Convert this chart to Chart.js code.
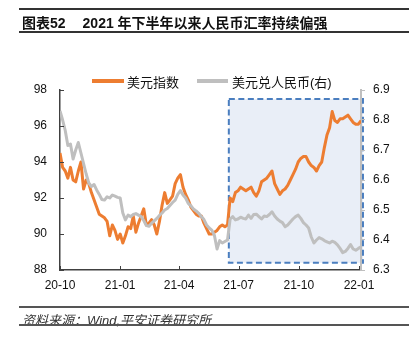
<!DOCTYPE html>
<html lang="zh">
<head>
  <meta charset="UTF-8">
  <title>2021年下半年以来人民币汇率持续偏强</title>
  <style>
    body {
      margin: 0;
      background: #fff;
      font-family: 'Liberation Sans', Arial, 'Noto Sans CJK SC', sans-serif;
      color: #111;
    }
    #wrap {
      position: relative;
      width: 415px;
      height: 341px;
      overflow: hidden;
    }
    #chart {
      position: absolute;
      left: 0;
      top: 0;
    }
    .rule {
      position: absolute;
      left: 19px;
      width: 390px;
      height: 2px;
      background: #333;
    }
    #title {
      position: absolute;
      left: 22px;
      top: 12px;
      font-size: 14px;
      font-weight: bold;
      white-space: nowrap;
    }
    #title .sub { margin-left: 17px; }
    .legend {
      position: absolute;
      top: 72px;
      font-size: 13px;
      white-space: nowrap;
      color: #111;
    }
    .swatch {
      position: absolute;
      top: 7px;
      height: 4px;
    }
    #source {
      position: absolute;
      left: 22px;
      top: 310px;
      font-size: 13px;
      font-style: italic;
      color: #333;
      white-space: nowrap;
    }
  </style>
  <script src="https://cdn.jsdelivr.net/npm/chart.js"></script>
</head>
<body>
<div id="wrap">
  <canvas id="chart" width="415" height="341"></canvas>
  <div class="rule" style="top:8px"></div>
  <div id="title">图表52<span class="sub">2021 年下半年以来人民币汇率持续偏强</span></div>
  <div class="rule" style="top:31px;height:1.5px"></div>

  <div class="legend" style="left:92px">
    <span class="swatch" style="left:0;width:32px;background:#ED7D31"></span>
    <span style="margin-left:35px">美元指数</span>
  </div>
  <div class="legend" style="left:197px">
    <span class="swatch" style="left:0;width:31px;background:#BFBFBF"></span>
    <span style="margin-left:35px">美元兑人民币(右)</span>
  </div>

  <div class="rule" style="top:306px;height:1.5px;background:#555"></div>
  <div id="source">资料来源：Wind,平安证券研究所</div>
  <div class="rule" style="top:324px;height:1.5px;background:#555"></div>
</div>

<script>
  // one reading every 4 days, starting 2020-10-01
  const dayStep = 4;

  // 美元指数 (left axis)
  const usdIdx = [
    94.5, 93.7, 93.5, 93.1, 93.7, 93.0, 92.9, 93.5, 94.0, 92.5,
    93.0, 92.8, 92.3, 91.9, 91.5, 91.1, 91.0, 90.9, 90.7, 89.9,
    90.5, 90.2, 89.7, 90.0, 89.5, 89.9, 90.4, 90.3, 91.0, 90.1,
    90.6, 91.0, 91.4, 90.5, 90.6, 90.8, 90.5, 90.0, 90.7, 91.6,
    92.3, 91.7, 91.9, 92.1, 92.8, 93.1, 93.3, 92.6, 92.2, 91.9,
    91.5, 91.3, 91.1, 91.0, 91.0, 90.6, 90.3, 90.0, 90.0, 90.1,
    90.2, 90.4, 90.5, 90.4, 90.5, 92.0, 91.8, 92.3, 92.4, 92.6,
    92.5, 92.4, 92.5, 92.6, 92.3, 92.1, 92.4, 92.9, 93.0, 93.1,
    93.3, 93.5, 92.8, 92.5, 92.2, 92.4, 92.5, 92.7, 93.0, 93.3,
    93.6, 94.0, 94.2, 94.3, 94.3, 94.0, 93.8, 93.7, 93.5, 93.8,
    94.0, 94.8, 95.5, 95.9, 96.8, 96.3, 96.2, 96.4, 96.4, 96.5,
    96.6, 96.4, 96.2, 96.1, 96.1, 96.3
  ];

  // 美元兑人民币 (right axis)
  const usdCny = [
    6.83, 6.80, 6.765, 6.715, 6.72, 6.67, 6.70, 6.725, 6.69, 6.655,
    6.62, 6.59, 6.578, 6.585, 6.567, 6.552, 6.535, 6.533, 6.544, 6.54,
    6.55, 6.546, 6.542, 6.54, 6.49, 6.467, 6.483, 6.478, 6.485, 6.488,
    6.483, 6.478, 6.465, 6.448, 6.446, 6.456, 6.464, 6.472, 6.482, 6.49,
    6.50, 6.505, 6.515, 6.525, 6.533, 6.552, 6.565, 6.55, 6.54, 6.522,
    6.514, 6.503, 6.497, 6.489, 6.478, 6.468, 6.45, 6.44, 6.433, 6.415,
    6.37, 6.398, 6.39, 6.395, 6.40, 6.47, 6.478, 6.467, 6.47, 6.476,
    6.472, 6.47, 6.483, 6.472, 6.485, 6.486, 6.478, 6.47, 6.48, 6.478,
    6.485, 6.494, 6.48, 6.47, 6.463, 6.458, 6.444, 6.45, 6.46, 6.47,
    6.478, 6.483, 6.472, 6.458, 6.45, 6.44, 6.41, 6.39, 6.40, 6.408,
    6.404, 6.398, 6.394, 6.39, 6.396, 6.392, 6.384, 6.372, 6.358, 6.362,
    6.372, 6.385, 6.37, 6.366, 6.372, 6.377
  ];

  // x ticks: days since 2020-10-01
  const tickDays = [0, 92, 182, 273, 365, 457];
  const tickLabels = ['20-10', '21-01', '21-04', '21-07', '21-10', '22-01'];

  // dashed highlight: days and left-axis values
  const boxDays = [258, 463];
  const boxVals = [88.4, 97.5];

  const days = usdIdx.map((_, i) => i * dayStep);
  const tickFont = { family: "'Liberation Sans', Arial, sans-serif", size: 12 };

  const highlightBox = {
    id: 'highlightBox',
    beforeDraw(chart) {
      const { ctx, scales: { x, y } } = chart;
      const x0 = x.getPixelForValue(boxDays[0]);
      const x1 = x.getPixelForValue(boxDays[1]);
      const y0 = y.getPixelForValue(boxVals[1]);
      const y1 = y.getPixelForValue(boxVals[0]);
      ctx.save();
      ctx.fillStyle = '#e9eef7';
      ctx.fillRect(x0, y0, x1 - x0, y1 - y0);
      ctx.setLineDash([6, 3.5]);
      ctx.strokeStyle = '#4a7ebf';
      ctx.lineWidth = 2;
      ctx.strokeRect(x0, y0, x1 - x0, y1 - y0);
      ctx.restore();
    }
  };

  // small tick marks pointing into the plot on left and bottom axes
  const innerTicks = {
    id: 'innerTicks',
    afterDatasetsDraw(chart) {
      const { ctx, scales: { x, y } } = chart;
      ctx.save();
      ctx.strokeStyle = '#404040';
      ctx.lineWidth = 1;
      ctx.beginPath();
      y.ticks.forEach(t => {
        const py = Math.round(y.getPixelForValue(t.value)) + 0.5;
        ctx.moveTo(y.right, py);
        ctx.lineTo(y.right + 4, py);
      });
      x.ticks.forEach(t => {
        const px = Math.round(x.getPixelForValue(t.value)) + 0.5;
        ctx.moveTo(px, x.top);
        ctx.lineTo(px, x.top - 4);
      });
      ctx.stroke();
      ctx.restore();
    }
  };

  new Chart(document.getElementById('chart'), {
    type: 'line',
    data: {
      datasets: [
        {
          label: '美元指数',
          data: days.map((d, i) => ({ x: d, y: usdIdx[i] })),
          borderColor: '#ED7D31',
          yAxisID: 'y',
          order: 1
        },
        {
          label: '美元兑人民币(右)',
          data: days.map((d, i) => ({ x: d, y: usdCny[i] })),
          borderColor: '#BFBFBF',
          yAxisID: 'y1',
          order: 0
        }
      ]
    },
    options: {
      responsive: false,
      animation: false,
      layout: { padding: { top: 90, bottom: 41, left: 0, right: 0 } },
      elements: {
        point: { radius: 0 },
        line: { borderWidth: 3, tension: 0, borderJoinStyle: 'round' }
      },
      plugins: {
        legend: { display: false },
        tooltip: { enabled: false }
      },
      scales: {
        x: {
          type: 'linear',
          min: 0,
          max: 460,
          afterBuildTicks: s => { s.ticks = tickDays.map(v => ({ value: v })); },
          afterFit: s => { s.height = 30; },
          ticks: {
            callback: (v, i) => tickLabels[i],
            autoSkip: false,
            maxRotation: 0,
            padding: 8,
            color: '#111',
            font: tickFont
          },
          grid: { display: false, drawTicks: false },
          border: { color: '#404040', width: 1.5 }
        },
        y: {
          position: 'left',
          min: 88,
          max: 98,
          afterFit: s => { s.width = 60; },
          ticks: { stepSize: 2, padding: 13, color: '#111', font: tickFont },
          grid: { display: false, drawTicks: false },
          border: { color: '#404040', width: 1.5 }
        },
        y1: {
          position: 'right',
          min: 6.3,
          max: 6.9,
          afterFit: s => { s.width = 54; },
          ticks: {
            stepSize: 0.1,
            padding: 8,
            color: '#111',
            font: tickFont,
            callback: v => v.toFixed(1)
          },
          grid: { display: true, drawOnChartArea: false, drawTicks: true, tickLength: 4, color: '#bfbfbf' },
          border: { color: '#bfbfbf', width: 2 }
        }
      }
    },
    plugins: [highlightBox, innerTicks]
  });
</script>
</body>
</html>
